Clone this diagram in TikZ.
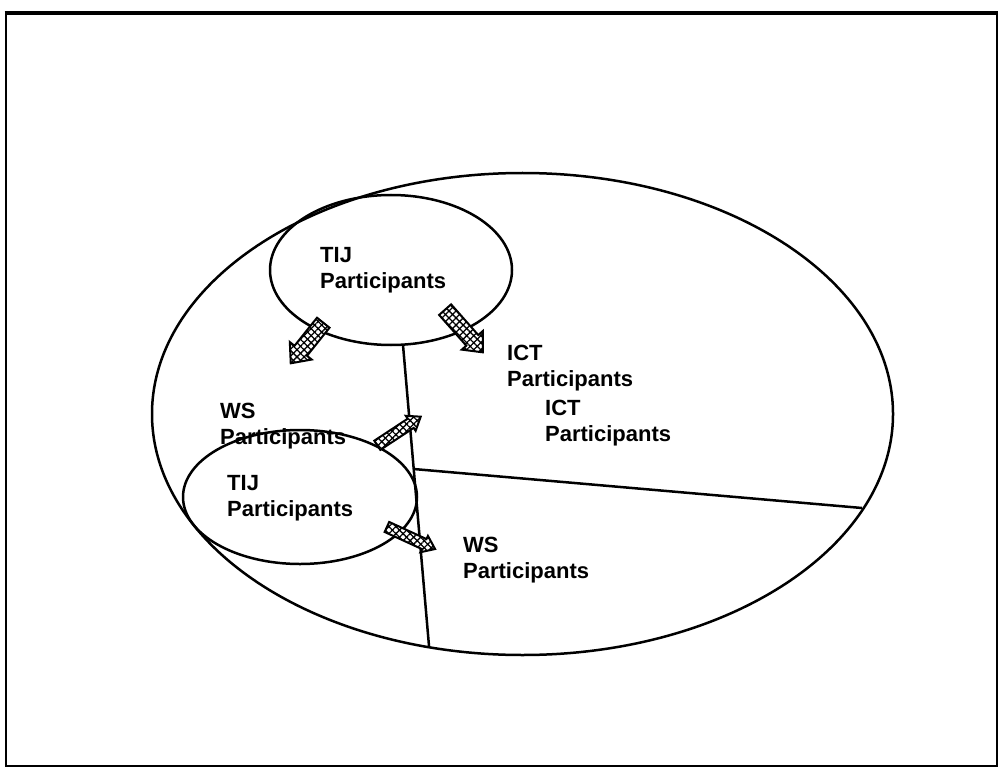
\documentclass[tikz,border=0pt]{standalone}
\usepackage{fontspec}
\setmainfont{Liberation Sans}
\usetikzlibrary{shapes.geometric,patterns.meta,calc}

\tikzset{
  frameline/.style={line width=2.6pt},
  outline/.style={draw, ellipse, line width=2.5pt, inner sep=0pt, outer sep=0pt},
  divider/.style={line width=2.5pt},
  label/.style={anchor=north west, inner sep=0pt, align=left,
    font=\bfseries\fontsize{22}{26}\selectfont},
  blockarrow/.style={line width=2pt, line join=miter,
    preaction={fill=white},
    preaction={pattern={Lines[angle=45, distance=5pt, line width=1.3pt]}},
    pattern={Lines[angle=-45, distance=5pt, line width=1.3pt]}}
}

% block arrow: #1 centre, #2 direction, #3 length, #4 shaft width,
% #5 head width, #6 head length
\newcommand{\hatchedarrow}[6]{%
  \begin{scope}[shift={#1}, rotate=#2]
    \draw[blockarrow] ({-#3/2},{-#4/2}) -- ({#3/2-#6},{-#4/2})
      -- ({#3/2-#6},{-#5/2}) -- ({#3/2},0) -- ({#3/2-#6},{#5/2})
      -- ({#3/2-#6},{#4/2}) -- ({-#3/2},{#4/2}) -- cycle;
  \end{scope}}

\begin{document}
\begin{tikzpicture}[x=1pt, y=-1pt]
  \useasboundingbox (0,0) rectangle (1000,767);

  % page frame, heavier along the top
  \draw[frameline] (6,13) -- (6,766) -- (997,766) -- (997,13);
  \draw[line width=3.8pt] (4.7,13) -- (998.3,13);

  % groups
  \node[outline, minimum width=741pt, minimum height=482pt] (whole) at (522.5,414) {};
  \node[outline, minimum width=242pt, minimum height=150pt] (tijtop) at (391,270) {};
  \node[outline, minimum width=234pt, minimum height=134pt] (tijlow) at (300,497) {};

  % dividing lines
  \coordinate (vtop) at (403,345);
  \coordinate (vbot) at (429,646);
  \coordinate (hleft) at ($(vtop)!0.412!(vbot)$);
  \coordinate (hright) at (862,508);
  \draw[divider] (vtop) -- (vbot);
  \draw[divider] (hleft) -- (hright);

  % labels
  \node[label] (t1) at (320,247) {TIJ\\Participants};
  \node[label] (c1) at (507,345) {ICT\\Participants};
  \node[label] (c2) at (545,400) {ICT\\Participants};
  \node[label] (w1) at (220,403) {WS\\Participants};
  \node[label] (t2) at (227,475) {TIJ\\Participants};
  \node[label] (w2) at (463,537) {WS\\Participants};

  % movement arrows
  \hatchedarrow{(307,343)}{231.3}{52}{16}{28}{16}
  \hatchedarrow{(464,331)}{-48.5}{57}{16}{28}{16}
  \hatchedarrow{(399,431)}{33.4}{52}{11}{18}{12}
  \hatchedarrow{(411,538)}{-24.6}{53}{11}{18}{12}
\end{tikzpicture}
\end{document}
